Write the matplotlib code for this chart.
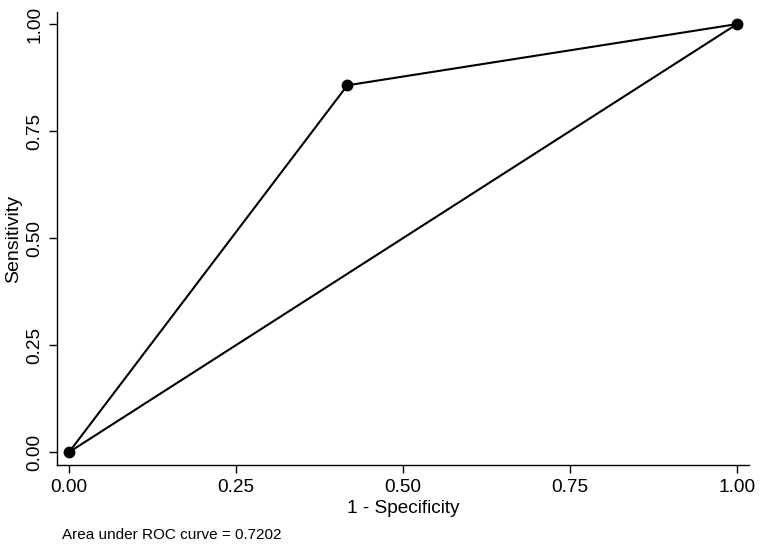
import matplotlib
matplotlib.use("Agg")
import matplotlib.pyplot as plt

# ROC data
fpr = [0.0, 0.4167, 1.0]          # 1 - Specificity
tpr = [0.0, 0.857, 1.0]           # Sensitivity
ref_x = [0.0, 1.0]
ref_y = [0.0, 1.0]
ticks = [0.0, 0.25, 0.50, 0.75, 1.00]
tick_labels = ["0.00", "0.25", "0.50", "0.75", "1.00"]
auc_text = "Area under ROC curve = 0.7202"

plt.rcParams['font.family'] = ['Liberation Sans', 'DejaVu Sans']

fig = plt.figure(figsize=(7.6, 5.5), dpi=100)
ax = fig.add_axes([0.075, 0.1545, 0.9105, 0.8235])

ax.plot(fpr, tpr, color='black', lw=1.5, marker='o', markersize=7.5, zorder=3)
ax.plot(ref_x, ref_y, color='black', lw=1.5, zorder=2)

ax.set_xlim(-0.018, 1.018)
ax.set_ylim(-0.030, 1.028)
ax.set_xticks(ticks)
ax.set_xticklabels(tick_labels)
ax.set_yticks(ticks)
ax.set_yticklabels(tick_labels, rotation=90, va='center')

ax.spines['top'].set_visible(False)
ax.spines['right'].set_visible(False)
for s in ('left', 'bottom'):
    ax.spines[s].set_linewidth(1.0)
ax.tick_params(axis='both', length=6, width=1.0, labelsize=13.7, pad=4)

ax.set_xlabel("1 - Specificity", fontsize=13.7, labelpad=3)
ax.set_ylabel("Sensitivity", fontsize=14, labelpad=3)

fig.text(62 / 760, 1 - 535 / 550, auc_text, fontsize=11, ha='left', va='center')

fig.savefig("out.png", dpi=100)
